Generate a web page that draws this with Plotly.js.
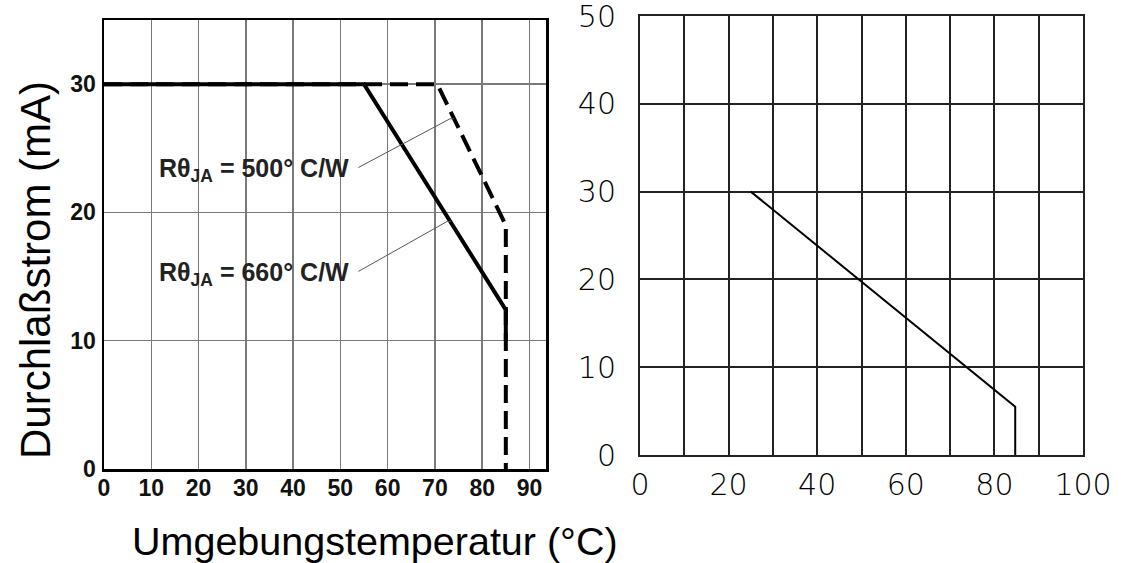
<!DOCTYPE html>
<html>
<head>
<meta charset="utf-8">
<script src="https://cdn.plot.ly/plotly-3.0.1.min.js"></script>
<style>html,body{margin:0;padding:0;background:#fff;}#chart{width:1136px;height:563px;}</style>
</head>
<body>
<div id="chart"></div>
<script>
// ---- Data (left chart: derating curves) ----
const temp500 = [0, 70.5, 85, 85];
const current500 = [30, 30, 19, 0];
const temp660 = [0, 55, 85, 85];
const current660 = [30, 30, 12.4, 10];
// ---- Data (right chart) ----
const tempRight = [25, 84.7, 84.7];
const currentRight = [30, 5.5, 0];
// ---- Tick values ----
const leftXTicks = [0, 10, 20, 30, 40, 50, 60, 70, 80, 90];
const leftYTicks = [0, 10, 20, 30];
const rightXTicks = [0, 20, 40, 60, 80, 100];
const rightYTicks = [0, 10, 20, 30, 40, 50];
// ---- Labels ----
const label500 = "<b>Rθ<sub>JA</sub> = 500° C/W</b>";
const label660 = "<b>Rθ<sub>JA</sub> = 660° C/W</b>";
const yTitle = "Durchlaßstrom (mA)";
const xTitle = "Umgebungstemperatur (°C)";
// leader line anchor points (data coords, left chart)
const leader500x = [53.8, 73.2, 74.1];
const leader500y = [23.5, 27.3, 27.3];
const leader660x = [53.8, 72.6, 73.4];
const leader660y = [15.4, 19.3, 19.3];

const traces = [
  {x: temp500, y: current500, xaxis:'x', yaxis:'y', mode:'lines',
   line:{color:'#000', width:4, dash:'18px,8px'}, hoverinfo:'skip'},
  {x: temp660, y: current660, xaxis:'x', yaxis:'y', mode:'lines',
   line:{color:'#000', width:4}, hoverinfo:'skip'},
  {x: leader500x, y: leader500y, xaxis:'x', yaxis:'y', mode:'lines',
   line:{color:'#555', width:1}, hoverinfo:'skip'},
  {x: leader660x, y: leader660y, xaxis:'x', yaxis:'y', mode:'lines',
   line:{color:'#555', width:1}, hoverinfo:'skip'},
  {x: tempRight, y: currentRight, xaxis:'x2', yaxis:'y2', mode:'lines',
   line:{color:'#000', width:2}, hoverinfo:'skip'}
];

const boldTick = {family:'"Liberation Sans", Arial, sans-serif', size:23, color:'#111', weight:'bold'};
const thinTick = {family:'"DejaVu Sans", sans-serif', size:30, color:'#000', weight:300};

const layout = {
  width:1136, height:563,
  margin:{l:0,r:0,t:0,b:0},
  paper_bgcolor:'#fff', plot_bgcolor:'#fff',
  showlegend:false,
  xaxis:{domain:[104/1136, 546/1136], range:[0,93.5], tickmode:'array', tickvals:leftXTicks,
    showgrid:true, gridcolor:'#7a7a7a', gridwidth:1.5, zeroline:false,
    showline:true, mirror:true, linecolor:'#000', linewidth:2.5, ticks:'',
    tickfont:boldTick, ticklabelstandoff:-3, ticklabeloverflow:'allow', fixedrange:true},
  yaxis:{domain:[(563-469)/563, (563-20)/563], range:[0,35], tickmode:'array', tickvals:leftYTicks,
    showgrid:true, gridcolor:'#7a7a7a', gridwidth:1.5, zeroline:false,
    showline:true, mirror:true, linecolor:'#000', linewidth:2.5, ticks:'',
    tickfont:boldTick, ticklabelstandoff:1, ticklabeloverflow:'allow', fixedrange:true},
  xaxis2:{domain:[640/1136, 1083/1136], range:[0,100], anchor:'y2', tickmode:'array', tickvals:rightXTicks,
    showgrid:true, gridcolor:'#222', gridwidth:2, zeroline:false,
    minor:{dtick:10, showgrid:true, gridcolor:'#222', gridwidth:2},
    showline:true, mirror:true, linecolor:'#222', linewidth:2, ticks:'',
    tickfont:thinTick, ticklabelstandoff:2, ticklabeloverflow:'allow', fixedrange:true},
  yaxis2:{domain:[(563-455)/563, (563-16)/563], range:[0,50], anchor:'x2', tickmode:'array', tickvals:rightYTicks,
    showgrid:true, gridcolor:'#222', gridwidth:2, zeroline:false,
    showline:true, mirror:true, linecolor:'#222', linewidth:2, ticks:'',
    tickfont:thinTick, ticklabelstandoff:16, ticklabeloverflow:'allow', fixedrange:true},
  annotations:[
    {text: label500, xref:'x', yref:'y', x:52.3, y:23.3, xanchor:'right', yanchor:'middle', showarrow:false,
     font:{family:'"Liberation Sans", Arial, sans-serif', size:25, color:'#222'}},
    {text: label660, xref:'x', yref:'y', x:52.3, y:15.2, xanchor:'right', yanchor:'middle', showarrow:false,
     font:{family:'"Liberation Sans", Arial, sans-serif', size:25, color:'#222'}},
    {text: yTitle, xref:'paper', yref:'paper', x:35/1136, y:(563-270)/563, xanchor:'center', yanchor:'middle',
     textangle:-90, showarrow:false, font:{family:'"Liberation Sans", Arial, sans-serif', size:42, color:'#000'}},
    {text: xTitle, xref:'paper', yref:'paper', x:375/1136, y:(563-541)/563, xanchor:'center', yanchor:'middle',
     showarrow:false, font:{family:'"Liberation Sans", Arial, sans-serif', size:39.5, color:'#000'}}
  ]
};

Plotly.newPlot('chart', traces, layout, {staticPlot:true, displayModeBar:false});
</script>
</body>
</html>
